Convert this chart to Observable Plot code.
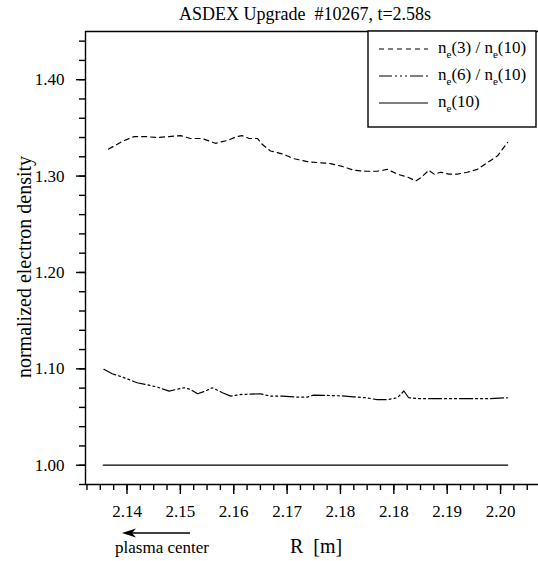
<!DOCTYPE html>
<html><head><meta charset="utf-8">
<script src="https://cdn.jsdelivr.net/npm/d3@7"></script>
<script src="https://cdn.jsdelivr.net/npm/@observablehq/plot@0.6"></script>
<style>body{margin:0;background:#fff} svg{display:block}</style>
</head><body><div id="chart"></div>
<script>
// ---- data ----
const r3 = [2.1364, 2.1387, 2.1407, 2.1426, 2.1446, 2.1466, 2.1485, 2.1502, 2.1522, 2.1544,
  2.1564, 2.1581, 2.1589, 2.1601, 2.1615, 2.1623, 2.1637, 2.1657, 2.1677, 2.1699,
  2.1716, 2.1738, 2.1758, 2.1778, 2.1798, 2.1817, 2.1834, 2.1851, 2.1868, 2.1882,
  2.1890, 2.1904, 2.1913, 2.1924, 2.1938, 2.1952, 2.1969, 2.1986, 2.2003, 2.2020, 2.2037];
const ne3 = [1.328, 1.336, 1.341, 1.341, 1.340, 1.341, 1.342, 1.339, 1.339, 1.334,
  1.337, 1.341, 1.342, 1.339, 1.339, 1.333, 1.326, 1.323, 1.318, 1.315,
  1.314, 1.313, 1.310, 1.306, 1.305, 1.305, 1.307, 1.302, 1.299, 1.295,
  1.298, 1.306, 1.302, 1.304, 1.302, 1.302, 1.304, 1.307, 1.314, 1.321, 1.335];
const r6 = [2.1356, 2.1370, 2.1387, 2.1412, 2.1426, 2.1446, 2.1466, 2.1491, 2.1502, 2.1514,
  2.1527, 2.1539, 2.1556, 2.1570, 2.1589, 2.1620, 2.1637, 2.1657, 2.1679, 2.1699,
  2.1710, 2.1755, 2.1777, 2.1798, 2.1817, 2.1834, 2.1851, 2.1862, 2.1870, 2.1890,
  2.1924, 2.1969, 2.2003, 2.2037];
const ne6 = [1.0995, 1.0949, 1.0915, 1.0856, 1.0839, 1.0811, 1.0769, 1.0804, 1.0787, 1.0741,
  1.0769, 1.0804, 1.0752, 1.0717, 1.0735, 1.0741, 1.0717, 1.0717, 1.0707, 1.0707,
  1.0728, 1.0720, 1.0710, 1.0700, 1.0680, 1.0680, 1.0700, 1.0770, 1.0700, 1.0690,
  1.0690, 1.0690, 1.0690, 1.0700];
const r10 = [2.1355, 2.2037];
const ne10 = [1.00, 1.00];

const seriesNames = ["(3) / n", "(6) / n", "(10)"];
const seriesDash = ["5,4", "13,3,2,3,2,3,2,3", null];

const xTicks = [2.1395, 2.1485, 2.1575, 2.1665, 2.1755, 2.1845, 2.1935, 2.2025];
const xTickLabels = ["2.14", "2.15", "2.16", "2.17", "2.18", "2.18", "2.19", "2.20"];
const yTicks = [1.00, 1.10, 1.20, 1.30, 1.40];
const yTickLabels = ["1.00", "1.10", "1.20", "1.30", "1.40"];
const xDomain = [2.1325, 2.2089];
const yDomain = [0.98, 1.45];

// minor tick positions (axis decoration)
const xMinor = d3.range(-3, 32).map(k => xTicks[0] + k * 0.00225).filter(v => v > xDomain[0] && v < xDomain[1]);
const yMinor = d3.range(0, 24).map(k => 0.98 + k * 0.02);

const font = "Liberation Serif, Times New Roman, serif";
const toRows = (rs, vs) => rs.map((r, i) => ({r, v: vs[i]}));

const plot = Plot.plot({
  width: 538, height: 561,
  marginLeft: 85, marginRight: 0, marginTop: 31, marginBottom: 77,
  x: {domain: xDomain},
  y: {domain: yDomain},
  style: {fontFamily: font, fontSize: "17px", color: "#000", background: "#fff", overflow: "visible"},
  marks: [
    Plot.axisX(xMinor, {tickSize: 6, tickFormat: () => "", label: null, stroke: "#000", strokeWidth: 1.4, strokeOpacity: 1}),
    Plot.axisX(xTicks, {tickSize: 10, tickPadding: 10, tickFormat: d => xTickLabels[xTicks.indexOf(d)], label: null, stroke: "#000", strokeWidth: 1.4, strokeOpacity: 1, fontSize: 17}),
    Plot.axisY(yMinor, {tickSize: 6, tickFormat: () => "", label: null, stroke: "#000", strokeWidth: 1.4, strokeOpacity: 1}),
    Plot.axisY(yTicks, {tickSize: 9, tickPadding: 12, tickFormat: d => yTickLabels[yTicks.indexOf(d)], label: null, stroke: "#000", strokeWidth: 1.4, strokeOpacity: 1, fontSize: 17}),
    Plot.ruleX([xDomain[0]], {stroke: "#000", strokeWidth: 1.4}),
    Plot.ruleY([yDomain[0]], {stroke: "#000", strokeWidth: 1.4}),
    Plot.ruleY([yDomain[1]], {stroke: "#000", strokeWidth: 1.4}),
    Plot.line(toRows(r10, ne10), {x: "r", y: "v", stroke: "#000", strokeWidth: 1.2}),
    Plot.line(toRows(r3, ne3), {x: "r", y: "v", stroke: "#000", strokeWidth: 1.2, strokeDasharray: seriesDash[0]}),
    Plot.line(toRows(r6, ne6), {x: "r", y: "v", stroke: "#000", strokeWidth: 1.2, strokeDasharray: seriesDash[1]})
  ]
});
document.getElementById("chart").appendChild(plot);

const svg = d3.select(plot);
const addText = (x, y, size, str, anchor = "middle") =>
  svg.append("text").attr("x", x).attr("y", y).attr("text-anchor", anchor)
    .attr("font-family", font).attr("font-size", size).attr("fill", "#000")
    .style("white-space", "pre").text(str);
// title
addText(305, 20, 18, "ASDEX Upgrade  #10267, t=2.58s");
// y label
svg.append("text").attr("transform", "translate(31,267) rotate(-90)").attr("text-anchor", "middle")
  .attr("font-family", font).attr("font-size", 20).attr("fill", "#000")
  .text("normalized electron density");
// x label
addText(316, 553, 20, "R  [m]");
addText(162, 553, 17, "plasma center");
// arrow
svg.append("path").attr("d", "M190,533H128").attr("stroke", "#000").attr("stroke-width", 1.3).attr("fill", "none");
svg.append("path").attr("d", "M122,533L136,528.5L132,533L136,537.5Z").attr("fill", "#000");

// legend
const lg = svg.append("g");
lg.append("rect").attr("x", 368).attr("y", 31).attr("width", 168).attr("height", 96)
  .attr("fill", "#fff").attr("stroke", "#000").attr("stroke-width", 1.4);
const rowY = [49, 76, 103];
seriesNames.forEach((name, i) => {
  const y = rowY[i];
  const ln = lg.append("line").attr("x1", 379).attr("x2", 428).attr("y1", y).attr("y2", y)
    .attr("stroke", "#000").attr("stroke-width", 1.2);
  if (seriesDash[i]) ln.attr("stroke-dasharray", seriesDash[i]);
  const t = lg.append("text").attr("x", 438).attr("y", y + 4).attr("text-anchor", "start")
    .attr("font-family", font).attr("font-size", 17).attr("fill", "#000");
  t.append("tspan").text("n");
  t.append("tspan").attr("font-size", 11).attr("dy", 5).text("e");
  t.append("tspan").attr("dy", -5).text(name);
  if (i < 2) {
    t.append("tspan").attr("font-size", 11).attr("dy", 5).text("e");
    t.append("tspan").attr("dy", -5).text("(10)");
  }
});
</script>
</body></html>
